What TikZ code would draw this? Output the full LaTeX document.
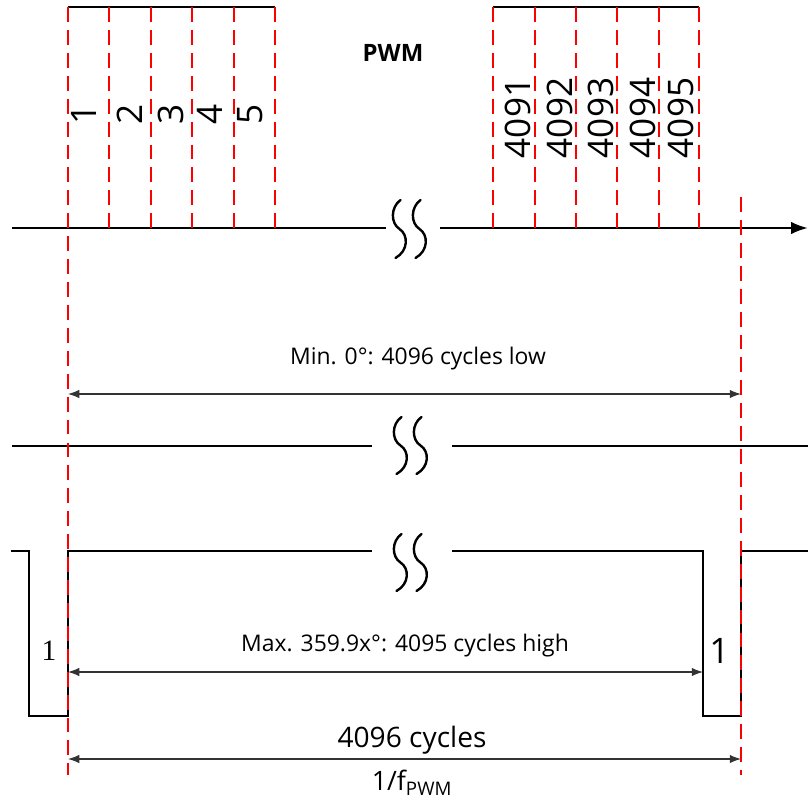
\documentclass[tikz,border=0pt]{standalone}
\usepackage{fontspec}
\setmainfont{Open Sans}
\newfontfamily\serifnum{Liberation Serif}
\usetikzlibrary{arrows.meta}

% wavy break mark: x0, cy, half height
\newcommand{\waveBreak}[3]{%
  \foreach \dx in {0,20} {
    \draw[brk] ({#1+\dx+1},{#2-#3}) .. controls ({#1+\dx-9},{#2-0.75*#3}) and ({#1+\dx-9},{#2-0.2*#3}) .. ({#1+\dx},#2)
      .. controls ({#1+\dx+9},{#2+0.2*#3}) and ({#1+\dx+9},{#2+0.75*#3}) .. ({#1+\dx-4},{#2+#3});
  }}

\begin{document}
\begin{tikzpicture}[
  x=0.025cm, y=-0.025cm,
  sig/.style={line width=1.9pt, black},
  bar/.style={line width=1.6pt, black},
  grid/.style={red, line width=2.1pt, dash pattern=on 10.6pt off 5.7pt},
  dim/.style={{Latex[length=8pt,width=6pt]}-{Latex[length=8pt,width=6pt]}, line width=0.8pt, black!80},
  brk/.style={line width=1.7pt, line cap=round},
  cyc/.style={font=\fontsize{25}{25}\selectfont, rotate=90, inner sep=0pt},
  lab/.style={font=\fontsize{16.3}{18}\selectfont, inner sep=0pt}
]
\useasboundingbox (0,0) rectangle (808,803);

% top row: cycle counter
\coordinate (ax0) at (12,228);
\coordinate (axa) at (386,228);
\coordinate (axb) at (440,228);
\coordinate (ax1) at (808,228);
\draw[sig] (ax0) -- (axa);
\draw[sig, -{Latex[length=12pt,width=9pt]}] (axb) -- (ax1);
\waveBreak{399.5}{229}{29}
\draw[bar] (68,7) -- (275,7);
\draw[bar] (493,7) -- (699,7);

\node[font=\bfseries\fontsize{17}{17}\selectfont] (pwm) at (393,53) {PWM};

\foreach \n/\x in {1/84,2/130,3/171,4/210,5/250}
  \node[cyc] (c\n) at (\x,114) {\n};
\foreach \n/\x in {4091/518,4092/560,4093/601,4094/643,4095/681}
  \node[cyc] (c\n) at (\x,118) {\n};

% middle row: min duty
\draw[sig] (12,446) -- (372,446);
\draw[sig] (452,446) -- (808,446);
\waveBreak{400.5}{445.5}{28.5}

\coordinate (minL) at (68,394);
\coordinate (minR) at (741,394);
\draw[dim] (minL) -- (minR);
\node[lab] (minlab) at (418,359) {Min. 0°: 4096 cycles low};

% bottom row: max duty
\draw[sig] (11,551) -- (29,551) -- (29,716) -- (68,716) -- (68,551) -- (372,551);
\draw[sig] (452,551) -- (703,551) -- (703,716) -- (741,716) -- (741,551) -- (808,551);
\waveBreak{400.5}{562.5}{28.5}

\node[font=\serifnum\fontsize{21}{21}\selectfont, inner sep=0pt] (oneL) at (49,651) {1};
\node[font=\fontsize{25}{25}\selectfont, inner sep=0pt] (oneR) at (719.5,650.5) {1};

\coordinate (maxL) at (68,672);
\coordinate (maxR) at (703,672);
\draw[dim] (maxL) -- (maxR);
\node[lab] (maxlab) at (405,646) {Max. 359.9x°: 4095 cycles high};

\coordinate (perL) at (68,759);
\coordinate (perR) at (741,759);
\draw[dim] (perL) -- (perR);
\node[font=\fontsize{20}{20}\selectfont, inner sep=0pt] (cyc) at (412,740) {4096 cycles};
\node[font=\fontsize{19}{19}\selectfont, inner sep=0pt] (fpwm) at (412,783) {1/f\textsubscript{PWM}};

% red cycle markers
\foreach \x in {109,151,192,234,275,493,535,576,617,659,699}
  \draw[grid] (\x,7) -- (\x,228);
\draw[grid] (68,7) -- (68,775);
\draw[grid] (741,197) -- (741,775);
\end{tikzpicture}
\end{document}
